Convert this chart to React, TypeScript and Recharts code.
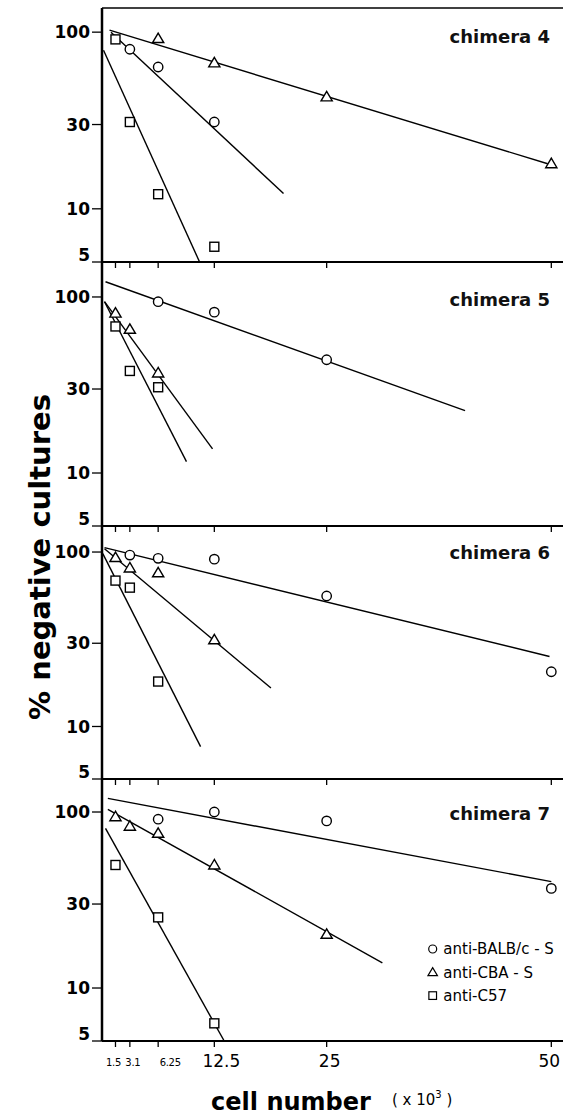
import React from "react";
import {
  ComposedChart,
  Line,
  Scatter,
  XAxis,
  YAxis,
  Legend,
  ReferenceLine,
} from "recharts";

const cellTicks = [1.5, 3.1, 6.25, 12.5, 25, 50];
const pctTicks = [5, 10, 30, 100];
const smallTicks = [1.5, 3.1, 6.25];

// chimera 4
const c4Balb = [{ x: 3.1, y: 80 }, { x: 6.25, y: 63.5 }, { x: 12.5, y: 31 }];
const c4Cba = [{ x: 6.25, y: 92 }, { x: 12.5, y: 67 }, { x: 25, y: 43 }, { x: 50, y: 18 }];
const c4C57 = [{ x: 1.5, y: 91 }, { x: 3.1, y: 31 }, { x: 6.25, y: 12.1 }, { x: 12.5, y: 6.1 }];
const c4BalbFit = [{ x: 1.0, y: 100 }, { x: 20.2, y: 12.2 }];
const c4CbaFit = [{ x: 0.84, y: 102.6 }, { x: 49.6, y: 18 }];
const c4C57Fit = [{ x: 0.17, y: 79 }, { x: 10.86, y: 5 }];

// chimera 5
const c5Balb = [{ x: 6.25, y: 94 }, { x: 12.5, y: 82 }, { x: 25, y: 44 }];
const c5Cba = [{ x: 1.5, y: 81 }, { x: 3.1, y: 65.5 }, { x: 6.25, y: 37 }];
const c5C57 = [{ x: 1.5, y: 68 }, { x: 3.1, y: 38 }, { x: 6.25, y: 30.7 }];
const c5BalbFit = [{ x: 0.39, y: 122 }, { x: 40.4, y: 22.6 }];
const c5CbaFit = [{ x: 0.28, y: 94 }, { x: 12.3, y: 13.7 }];
const c5C57Fit = [{ x: 0.28, y: 94 }, { x: 9.4, y: 11.6 }];

// chimera 6
const c6Balb = [{ x: 3.1, y: 96 }, { x: 6.25, y: 92 }, { x: 12.5, y: 91 }, { x: 25, y: 56 }, { x: 50, y: 20.6 }];
const c6Cba = [{ x: 1.5, y: 93 }, { x: 3.1, y: 81 }, { x: 6.25, y: 76 }, { x: 12.5, y: 31.4 }];
const c6C57 = [{ x: 1.5, y: 68.6 }, { x: 3.1, y: 62.5 }, { x: 6.25, y: 18.1 }];
const c6BalbFit = [{ x: 0.28, y: 106 }, { x: 49.8, y: 25.2 }];
const c6CbaFit = [{ x: 0.28, y: 104.5 }, { x: 18.8, y: 16.6 }];
const c6C57Fit = [{ x: 0.09, y: 98 }, { x: 10.97, y: 7.66 }];

// chimera 7
const c7Balb = [{ x: 6.25, y: 91 }, { x: 12.5, y: 100 }, { x: 25, y: 89 }, { x: 50, y: 36.8 }];
const c7Cba = [{ x: 1.5, y: 94 }, { x: 3.1, y: 83 }, { x: 6.25, y: 75.7 }, { x: 12.5, y: 50 }, { x: 25, y: 20.2 }];
const c7C57 = [{ x: 1.5, y: 50 }, { x: 6.25, y: 25.2 }, { x: 12.5, y: 6.3 }];
const c7BalbFit = [{ x: 0.65, y: 119.6 }, { x: 50, y: 40.2 }];
const c7CbaFit = [{ x: 0.65, y: 103.6 }, { x: 31.2, y: 13.9 }];
const c7C57Fit = [{ x: 0.39, y: 80.7 }, { x: 13.6, y: 5 }];

const legendLabels = ["anti-BALB/c - S", "anti-CBA - S", "anti-C57"];

// panel geometry (top of plot, plot height, top of log domain)
const panels = [
  { name: "chimera 4", top: 8, h: 254, yMax: 137, labelY: 43, balb: c4Balb, cba: c4Cba, c57: c4C57, fits: [c4BalbFit, c4CbaFit, c4C57Fit] },
  { name: "chimera 5", top: 262, h: 264, yMax: 158, labelY: 306, balb: c5Balb, cba: c5Cba, c57: c5C57, fits: [c5BalbFit, c5CbaFit, c5C57Fit] },
  { name: "chimera 6", top: 526, h: 253, yMax: 141, labelY: 559, balb: c6Balb, cba: c6Cba, c57: c6C57, fits: [c6BalbFit, c6CbaFit, c6C57Fit] },
  { name: "chimera 7", top: 779, h: 262, yMax: 154, labelY: 820, balb: c7Balb, cba: c7Cba, c57: c7C57, fits: [c7BalbFit, c7CbaFit, c7C57Fit] },
];

const FONT = "'DejaVu Sans', sans-serif";
const MARK = { fill: "#fff", stroke: "#000", strokeWidth: 1.4 };

const CircleMark = (p: any) => <circle cx={p.cx} cy={p.cy} r={4.7} {...MARK} />;
const TriMark = (p: any) => (
  <polygon
    points={`${p.cx},${p.cy - 5.5} ${p.cx - 5.6},${p.cy + 4} ${p.cx + 5.6},${p.cy + 4}`}
    {...MARK}
  />
);
const SquareMark = (p: any) => (
  <rect x={p.cx - 4.5} y={p.cy - 4.5} width={9} height={9} {...MARK} />
);

function YTick(props: any) {
  const v = props.payload.value;
  return (
    <text
      x={props.x}
      y={props.y + (v === 5 ? -7 : 0)}
      dy="0.36em"
      textAnchor="end"
      fontFamily={FONT}
      fontWeight="bold"
      fontSize={17}
      fill="#000"
    >
      {v}
    </text>
  );
}

// label nudges so the crowded small ticks don't collide
const xLabelDx: Record<string, number> = { "1.5": -2, "3.1": 3, "6.25": 12, "12.5": 7, "25": 3, "50": -2 };

function makeXTick(show: boolean) {
  return (props: any) => {
    if (!show) return <g />;
    const v = props.payload.value;
    const small = smallTicks.includes(v);
    return (
      <text
        x={props.x + (xLabelDx[String(v)] ?? 0)}
        y={props.y + (small ? 19 : 20)}
        textAnchor="middle"
        fontFamily={FONT}
        fontSize={small ? 10 : 17}
        letterSpacing={small ? -0.3 : 0}
        fill="#000"
      >
        {v}
      </text>
    );
  };
}

function LegendBox() {
  const shapes = [CircleMark, TriMark, SquareMark];
  return (
    <svg width={160} height={64}>
      {legendLabels.map((l, i) => {
        const S = shapes[i];
        const cy = 9 + i * 23.3;
        return (
          <g key={l}>
            <g transform={`translate(${7.7},${cy}) scale(0.85) translate(${-7.7},${-cy})`}>
              <S cx={7.7} cy={cy} />
            </g>
            <text x={18.3} y={cy} dy="0.36em" fontFamily={FONT} fontSize={15} fill="#000">
              {l}
            </text>
          </g>
        );
      })}
    </svg>
  );
}

function Panel({ p, last }: { p: (typeof panels)[number]; last: boolean }) {
  const chartH = 2 + p.h + 30;
  return (
    <div style={{ position: "absolute", left: 0, top: p.top - 2 }}>
      <ComposedChart width={568} height={chartH} margin={{ top: 2, right: 5, left: 0, bottom: 0 }}>
        <XAxis
          dataKey="x"
          type="number"
          domain={[0, 51.3]}
          ticks={cellTicks}
          allowDataOverflow
          height={30}
          tickSize={6}
          tickMargin={0}
          axisLine={{ stroke: "#000", strokeWidth: 2 }}
          tickLine={{ stroke: "#000", strokeWidth: 1.3 }}
          tick={makeXTick(last)}
          interval={0}
        />
        <YAxis
          dataKey="y"
          type="number"
          scale="log"
          domain={[5, p.yMax]}
          ticks={pctTicks}
          allowDataOverflow
          width={102}
          tickSize={10}
          tickMargin={2}
          axisLine={{ stroke: "#000", strokeWidth: 2.5 }}
          tickLine={{ stroke: "#000", strokeWidth: 1.3 }}
          tick={YTick}
          interval={0}
        />
        {p.top === 8 && <ReferenceLine y={p.yMax} stroke="#000" strokeWidth={1.6} />}
        {p.fits.map((f, i) => (
          <Line
            key={i}
            data={f}
            dataKey="y"
            type="linear"
            stroke="#000"
            strokeWidth={1.4}
            dot={false}
            isAnimationActive={false}
            legendType="none"
          />
        ))}
        <Scatter data={p.balb} shape={CircleMark} isAnimationActive={false} />
        <Scatter data={p.cba} shape={TriMark} isAnimationActive={false} />
        <Scatter data={p.c57} shape={SquareMark} isAnimationActive={false} />
        {last && (
          <Legend
            layout="horizontal"
            verticalAlign="middle"
            align="center"
            content={() => <LegendBox />}
            wrapperStyle={{ left: 425, top: 940 - (p.top - 2), width: 160, height: 64 }}
          />
        )}
      </ComposedChart>
    </div>
  );
}

export default function App() {
  return (
    <div style={{ position: "absolute", left: 0, top: 0, width: 568, height: 1119, background: "#fff" }}>
      {panels.map((p, i) => (
        <Panel key={p.name} p={p} last={i === panels.length - 1} />
      ))}
      <svg
        width={568}
        height={1119}
        style={{ position: "absolute", left: 0, top: 0, pointerEvents: "none" }}
      >
        {panels.map((p) => (
          <text
            key={p.name}
            x={550}
            y={p.labelY}
            textAnchor="end"
            fontFamily={FONT}
            fontWeight="bold"
            fontSize={18}
            fill="#111"
          >
            {p.name}
          </text>
        ))}
        <text
          transform="translate(50,557) rotate(-90)"
          textAnchor="middle"
          fontFamily={FONT}
          fontWeight="bold"
          fontSize={29}
          fill="#000"
        >
          % negative cultures
        </text>
        <text x={291} y={1110} textAnchor="middle" fontFamily={FONT} fontWeight="bold" fontSize={24} fill="#000">
          cell number
        </text>
        <text x={392} y={1105} fontFamily={FONT} fontSize={15} fill="#000">
          ( x 10
          <tspan dy={-7} fontSize={10}>3</tspan>
          <tspan dy={7}> )</tspan>
        </text>
      </svg>
    </div>
  );
}
